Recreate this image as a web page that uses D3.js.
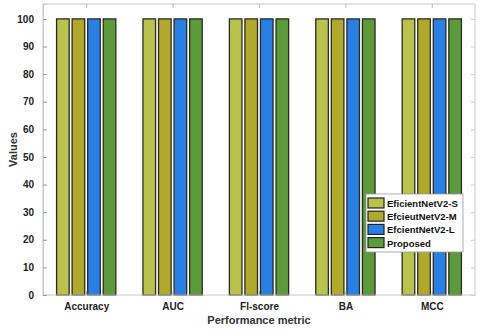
<!DOCTYPE html>
<html><head><meta charset="utf-8">
<script src="https://cdn.jsdelivr.net/npm/d3@7"></script>
<style>body{margin:0;background:#fff;} svg{display:block;}</style>
</head><body>
<script>
const categories = ["Accuracy", "AUC", "Fl-score", "BA", "MCC"];
const seriesNames = ["EficientNetV2-S", "EfcieutNetV2-M", "EfcientNetV2-L", "Proposed"];
const effNetS = [100, 100, 100, 100, 100];
const effNetM = [100, 100, 100, 100, 100];
const effNetL = [100, 100, 100, 100, 100];
const proposed = [100, 100, 100, 100, 100];
const yTicks = [0, 10, 20, 30, 40, 50, 60, 70, 80, 90, 100];
const colors = ["#b9c24c", "#b1a92d", "#2a7fe3", "#5b9b3b"];
const series = [effNetS, effNetM, effNetL, proposed];

const W = 480, H = 330;
const m = {l: 43, r: 5, t: 4, b: 35};
const svg = d3.select("body").append("svg").attr("width", W).attr("height", H);
const font = "Arial, 'Liberation Sans', sans-serif";

const x = d3.scaleLinear().domain([0.5, 5.5]).range([m.l, W - m.r]);
const y = d3.scaleLinear().domain([0, 105.4]).range([H - m.b, m.t]);
const groupStep = x(2) - x(1);
const barStep = groupStep * 0.18;
const barW = barStep * 0.81;

// bars
series.forEach((vals, si) => {
  svg.append("g").selectAll("rect").data(vals).enter().append("rect")
    .attr("x", (d, i) => x(i + 1) + (si - 1.5) * barStep - barW / 2)
    .attr("y", d => y(d))
    .attr("width", barW)
    .attr("height", d => y(0) - y(d))
    .attr("fill", colors[si])
    .attr("stroke", "#2b2b1f")
    .attr("stroke-width", 1.3);
});

// box
svg.append("rect").attr("x", x.range()[0]).attr("y", y.range()[1])
  .attr("width", x.range()[1] - x.range()[0]).attr("height", y.range()[0] - y.range()[1])
  .attr("fill", "none").attr("stroke", "#c8c8c8").attr("stroke-width", 1);

// y axis
const yAxis = svg.append("g").attr("transform", `translate(${m.l},0)`)
  .call(d3.axisLeft(y).tickValues(yTicks).tickSize(-4).tickPadding(9).tickFormat(d3.format("d")));
yAxis.select(".domain").attr("stroke", "#c8c8c8");
yAxis.selectAll(".tick line").attr("stroke", "#999");
yAxis.selectAll("text").attr("font-family", font).attr("font-weight", "bold").attr("font-size", 10).attr("fill", "#222");

// right ticks
const yAxisR = svg.append("g").attr("transform", `translate(${W - m.r},0)`)
  .call(d3.axisRight(y).tickValues(yTicks).tickSize(-4).tickFormat(""));
yAxisR.select(".domain").remove();
yAxisR.selectAll(".tick line").attr("stroke", "#ccc");

// x axis
const xAxis = svg.append("g").attr("transform", `translate(0,${H - m.b})`)
  .call(d3.axisBottom(x).tickValues([1, 2, 3, 4, 5]).tickSize(-4).tickPadding(8)
    .tickFormat(d => categories[d - 1]));
xAxis.select(".domain").remove();
xAxis.selectAll(".tick line").attr("stroke", "#999");
xAxis.selectAll("text").attr("font-family", font).attr("font-weight", "bold").attr("font-size", 10).attr("fill", "#222");

const xAxisT = svg.append("g").attr("transform", `translate(0,${m.t})`)
  .call(d3.axisTop(x).tickValues([1, 2, 3, 4, 5]).tickSize(-4).tickFormat(""));
xAxisT.select(".domain").remove();
xAxisT.selectAll(".tick line").attr("stroke", "#bbb");

// labels
svg.append("text").attr("x", (x.range()[0] + x.range()[1]) / 2).attr("y", 324)
  .attr("text-anchor", "middle").attr("font-family", font).attr("font-weight", "bold")
  .attr("font-size", 11).attr("fill", "#333").text("Performance metric");
svg.append("text").attr("transform", `translate(17,${(y.range()[0] + y.range()[1]) / 2}) rotate(-90)`)
  .attr("text-anchor", "middle").attr("font-family", font).attr("font-weight", "bold")
  .attr("font-size", 11).attr("fill", "#333").text("Values");

// legend
const lg = svg.append("g").attr("transform", "translate(366,194)");
lg.append("rect").attr("width", 97).attr("height", 58).attr("fill", "#fff").attr("stroke", "#999").attr("stroke-width", 0.8);
seriesNames.forEach((name, i) => {
  const yy = 4 + i * 13.2;
  lg.append("rect").attr("x", 2).attr("y", yy).attr("width", 16).attr("height", 10)
    .attr("fill", colors[i]).attr("stroke", "#222").attr("stroke-width", 1.2);
  lg.append("text").attr("x", 21).attr("y", yy + 9).attr("font-family", font).attr("font-weight", "bold")
    .attr("font-size", 9.5).attr("fill", "#111").text(name);
});
</script>
</body></html>
